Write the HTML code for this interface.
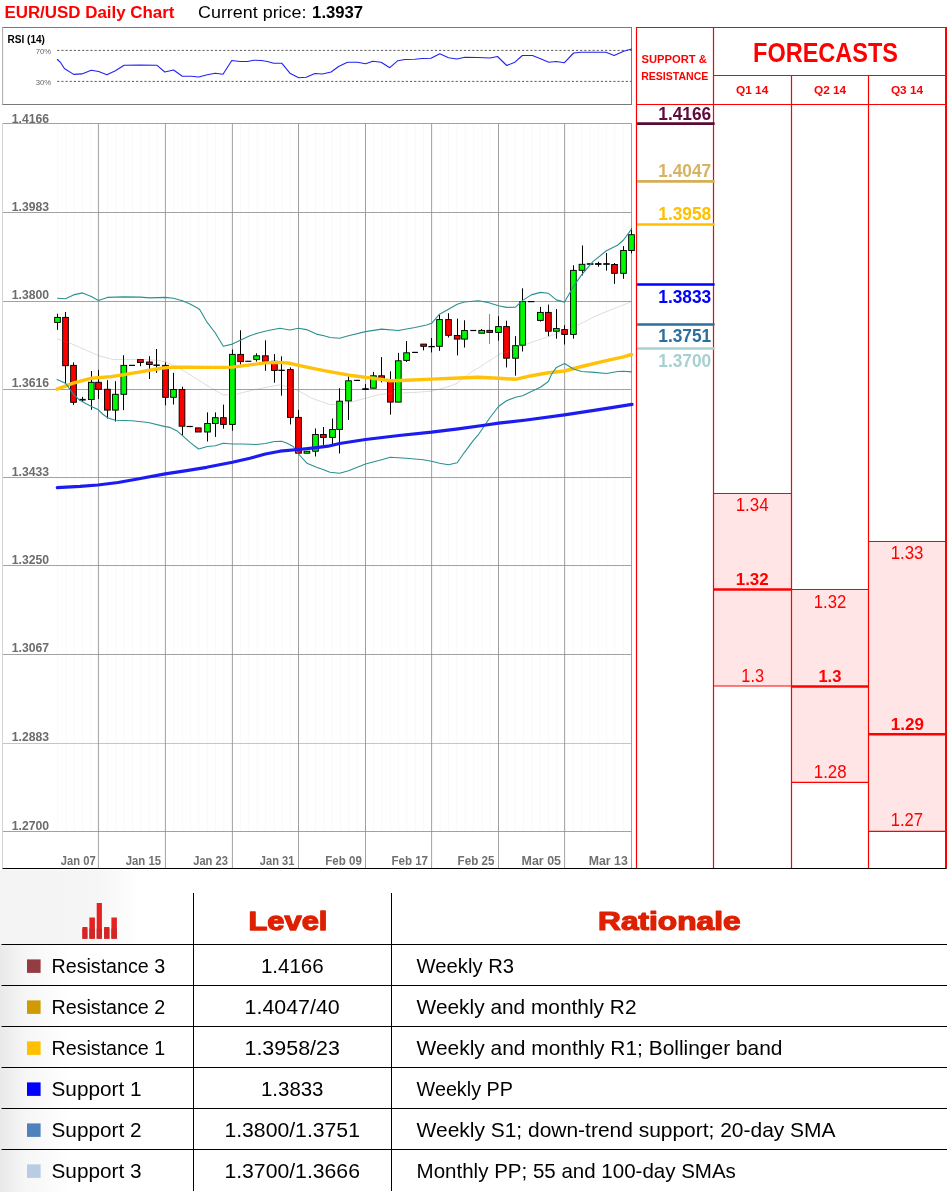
<!DOCTYPE html>
<html><head><meta charset="utf-8"><title>EUR/USD Daily Chart</title>
<style>
html,body{margin:0;padding:0;background:#fff;}
body{width:949px;height:1192px;overflow:hidden;font-family:"Liberation Sans",sans-serif;}
svg{display:block;font-family:"Liberation Sans",sans-serif;will-change:transform;}
</style></head><body>
<svg width="949" height="1192" viewBox="0 0 949 1192">
<rect x="0.00" y="0.00" width="949.00" height="1192.00" fill="#fff" stroke="none" stroke-width="0" />
<defs><linearGradient id="tg" x1="0" x2="1" y1="0" y2="0"><stop offset="0" stop-color="#e9e9e9"/><stop offset="0.35" stop-color="#f6f6f6"/><stop offset="1" stop-color="#ffffff"/></linearGradient></defs>
<linearGradient id="tg2" x1="0" x2="1" y1="0" y2="0"><stop offset="0" stop-color="#f3f3f3"/><stop offset="0.72" stop-color="#f6f6f6"/><stop offset="1" stop-color="#ffffff"/></linearGradient>
<linearGradient id="tg3" x1="0" x2="0" y1="0" y2="1"><stop offset="0" stop-color="#fff" stop-opacity="1"/><stop offset="1" stop-color="#fff" stop-opacity="0"/></linearGradient>
<rect x="0.00" y="869.50" width="138.00" height="75.00" fill="url(#tg2)" stroke="none" stroke-width="0" />
<rect x="0.00" y="944.00" width="70.00" height="248.00" fill="url(#tg)" stroke="none" stroke-width="0" />
<text transform="translate(4.40,17.60) scale(1.0071,1)" font-size="16.8" font-weight="bold" fill="#ff0000" >EUR/USD Daily Chart</text>
<text transform="translate(198.00,17.60) scale(1.0657,1)" font-size="16.8" font-weight="normal" fill="#000" >Current price:</text>
<text transform="translate(312.10,17.60) scale(0.9940,1)" font-size="16.8" font-weight="bold" fill="#000" >1.3937</text>
<line x1="2" y1="27.5" x2="632" y2="27.5" stroke="#787878" stroke-width="1" />
<line x1="2" y1="104.5" x2="632" y2="104.5" stroke="#787878" stroke-width="1" />
<line x1="631.5" y1="27.5" x2="631.5" y2="104.5" stroke="#808080" stroke-width="1" />
<line x1="2.6" y1="27.5" x2="2.6" y2="104.5" stroke="#b0b0b0" stroke-width="1.1" />
<text transform="translate(7.50,42.70) scale(0.9588,1)" font-size="10.5" font-weight="bold" fill="#000" >RSI (14)</text>
<text transform="translate(35.70,53.60) scale(0.9936,1)" font-size="7.8" font-weight="normal" fill="#666" >70%</text>
<text transform="translate(35.70,84.80) scale(0.9936,1)" font-size="7.8" font-weight="normal" fill="#666" >30%</text>
<line x1="57.2" y1="50.4" x2="631.5" y2="50.4" stroke="#333" stroke-width="0.8" stroke-dasharray="2.2 1.95"/>
<line x1="57.2" y1="81.4" x2="631.5" y2="81.4" stroke="#333" stroke-width="0.8" stroke-dasharray="2.2 1.95"/>
<polyline points="57.4,59.5 60.7,62.7 64.4,68.5 73.7,74.4 81.9,73.9 91.2,70.2 98.7,71.5 106.9,74.7 115.4,70.7 124.1,65.2 139.9,65.0 156.8,65.2 164.8,72.0 173.6,70.0 182.3,76.2 191.1,76.2 198.6,77.0 207.3,74.7 215.3,73.2 223.0,74.2 231.8,60.5 240.0,61.5 247.5,61.5 253.7,60.2 261.2,60.5 267.5,61.5 273.7,63.2 281.7,63.2 289.9,73.2 298.7,77.7 306.2,77.2 314.9,73.5 322.4,74.0 331.1,72.0 338.6,66.5 347.4,62.2 357.4,62.2 365.6,63.7 372.9,61.2 381.1,62.2 389.8,67.7 397.8,60.7 404.8,59.5 414.8,59.2 422.3,58.5 431.0,58.2 439.8,53.7 448.5,57.7 456.8,59.0 465.0,57.2 477.5,57.5 490.0,58.0 497.5,56.5 506.7,65.5 514.9,62.2 522.4,55.5 532.4,55.5 541.2,59.0 548.7,62.2 556.2,61.5 564.4,62.7 573.6,53.0 581.1,52.2 606.1,52.2 614.1,55.5 623.6,51.2 631.6,49.0" fill="none" stroke="#2222f4" stroke-width="1.1" stroke-linejoin="round" stroke-linecap="round" />
<line x1="57.5" y1="124" x2="57.5" y2="831" stroke="#f9f9f9" stroke-width="1" />
<line x1="65.8" y1="124" x2="65.8" y2="831" stroke="#f9f9f9" stroke-width="1" />
<line x1="74.1" y1="124" x2="74.1" y2="831" stroke="#f9f9f9" stroke-width="1" />
<line x1="82.5" y1="124" x2="82.5" y2="831" stroke="#f9f9f9" stroke-width="1" />
<line x1="90.8" y1="124" x2="90.8" y2="831" stroke="#f9f9f9" stroke-width="1" />
<line x1="99.1" y1="124" x2="99.1" y2="831" stroke="#f9f9f9" stroke-width="1" />
<line x1="107.4" y1="124" x2="107.4" y2="831" stroke="#f9f9f9" stroke-width="1" />
<line x1="115.7" y1="124" x2="115.7" y2="831" stroke="#f9f9f9" stroke-width="1" />
<line x1="124.1" y1="124" x2="124.1" y2="831" stroke="#f9f9f9" stroke-width="1" />
<line x1="132.4" y1="124" x2="132.4" y2="831" stroke="#f9f9f9" stroke-width="1" />
<line x1="140.7" y1="124" x2="140.7" y2="831" stroke="#f9f9f9" stroke-width="1" />
<line x1="149.0" y1="124" x2="149.0" y2="831" stroke="#f9f9f9" stroke-width="1" />
<line x1="157.3" y1="124" x2="157.3" y2="831" stroke="#f9f9f9" stroke-width="1" />
<line x1="165.7" y1="124" x2="165.7" y2="831" stroke="#f9f9f9" stroke-width="1" />
<line x1="174.0" y1="124" x2="174.0" y2="831" stroke="#f9f9f9" stroke-width="1" />
<line x1="182.3" y1="124" x2="182.3" y2="831" stroke="#f9f9f9" stroke-width="1" />
<line x1="190.6" y1="124" x2="190.6" y2="831" stroke="#f9f9f9" stroke-width="1" />
<line x1="198.9" y1="124" x2="198.9" y2="831" stroke="#f9f9f9" stroke-width="1" />
<line x1="207.3" y1="124" x2="207.3" y2="831" stroke="#f9f9f9" stroke-width="1" />
<line x1="215.6" y1="124" x2="215.6" y2="831" stroke="#f9f9f9" stroke-width="1" />
<line x1="223.9" y1="124" x2="223.9" y2="831" stroke="#f9f9f9" stroke-width="1" />
<line x1="232.2" y1="124" x2="232.2" y2="831" stroke="#f9f9f9" stroke-width="1" />
<line x1="240.5" y1="124" x2="240.5" y2="831" stroke="#f9f9f9" stroke-width="1" />
<line x1="248.9" y1="124" x2="248.9" y2="831" stroke="#f9f9f9" stroke-width="1" />
<line x1="257.2" y1="124" x2="257.2" y2="831" stroke="#f9f9f9" stroke-width="1" />
<line x1="265.5" y1="124" x2="265.5" y2="831" stroke="#f9f9f9" stroke-width="1" />
<line x1="273.8" y1="124" x2="273.8" y2="831" stroke="#f9f9f9" stroke-width="1" />
<line x1="282.1" y1="124" x2="282.1" y2="831" stroke="#f9f9f9" stroke-width="1" />
<line x1="290.5" y1="124" x2="290.5" y2="831" stroke="#f9f9f9" stroke-width="1" />
<line x1="298.8" y1="124" x2="298.8" y2="831" stroke="#f9f9f9" stroke-width="1" />
<line x1="307.1" y1="124" x2="307.1" y2="831" stroke="#f9f9f9" stroke-width="1" />
<line x1="315.4" y1="124" x2="315.4" y2="831" stroke="#f9f9f9" stroke-width="1" />
<line x1="323.7" y1="124" x2="323.7" y2="831" stroke="#f9f9f9" stroke-width="1" />
<line x1="332.1" y1="124" x2="332.1" y2="831" stroke="#f9f9f9" stroke-width="1" />
<line x1="340.4" y1="124" x2="340.4" y2="831" stroke="#f9f9f9" stroke-width="1" />
<line x1="348.7" y1="124" x2="348.7" y2="831" stroke="#f9f9f9" stroke-width="1" />
<line x1="357.0" y1="124" x2="357.0" y2="831" stroke="#f9f9f9" stroke-width="1" />
<line x1="365.3" y1="124" x2="365.3" y2="831" stroke="#f9f9f9" stroke-width="1" />
<line x1="373.7" y1="124" x2="373.7" y2="831" stroke="#f9f9f9" stroke-width="1" />
<line x1="382.0" y1="124" x2="382.0" y2="831" stroke="#f9f9f9" stroke-width="1" />
<line x1="390.3" y1="124" x2="390.3" y2="831" stroke="#f9f9f9" stroke-width="1" />
<line x1="398.6" y1="124" x2="398.6" y2="831" stroke="#f9f9f9" stroke-width="1" />
<line x1="406.9" y1="124" x2="406.9" y2="831" stroke="#f9f9f9" stroke-width="1" />
<line x1="415.3" y1="124" x2="415.3" y2="831" stroke="#f9f9f9" stroke-width="1" />
<line x1="423.6" y1="124" x2="423.6" y2="831" stroke="#f9f9f9" stroke-width="1" />
<line x1="431.9" y1="124" x2="431.9" y2="831" stroke="#f9f9f9" stroke-width="1" />
<line x1="440.2" y1="124" x2="440.2" y2="831" stroke="#f9f9f9" stroke-width="1" />
<line x1="448.5" y1="124" x2="448.5" y2="831" stroke="#f9f9f9" stroke-width="1" />
<line x1="456.9" y1="124" x2="456.9" y2="831" stroke="#f9f9f9" stroke-width="1" />
<line x1="465.2" y1="124" x2="465.2" y2="831" stroke="#f9f9f9" stroke-width="1" />
<line x1="473.5" y1="124" x2="473.5" y2="831" stroke="#f9f9f9" stroke-width="1" />
<line x1="481.8" y1="124" x2="481.8" y2="831" stroke="#f9f9f9" stroke-width="1" />
<line x1="490.1" y1="124" x2="490.1" y2="831" stroke="#f9f9f9" stroke-width="1" />
<line x1="498.5" y1="124" x2="498.5" y2="831" stroke="#f9f9f9" stroke-width="1" />
<line x1="506.8" y1="124" x2="506.8" y2="831" stroke="#f9f9f9" stroke-width="1" />
<line x1="515.1" y1="124" x2="515.1" y2="831" stroke="#f9f9f9" stroke-width="1" />
<line x1="523.4" y1="124" x2="523.4" y2="831" stroke="#f9f9f9" stroke-width="1" />
<line x1="531.7" y1="124" x2="531.7" y2="831" stroke="#f9f9f9" stroke-width="1" />
<line x1="540.1" y1="124" x2="540.1" y2="831" stroke="#f9f9f9" stroke-width="1" />
<line x1="548.4" y1="124" x2="548.4" y2="831" stroke="#f9f9f9" stroke-width="1" />
<line x1="556.7" y1="124" x2="556.7" y2="831" stroke="#f9f9f9" stroke-width="1" />
<line x1="565.0" y1="124" x2="565.0" y2="831" stroke="#f9f9f9" stroke-width="1" />
<line x1="573.3" y1="124" x2="573.3" y2="831" stroke="#f9f9f9" stroke-width="1" />
<line x1="581.7" y1="124" x2="581.7" y2="831" stroke="#f9f9f9" stroke-width="1" />
<line x1="590.0" y1="124" x2="590.0" y2="831" stroke="#f9f9f9" stroke-width="1" />
<line x1="598.3" y1="124" x2="598.3" y2="831" stroke="#f9f9f9" stroke-width="1" />
<line x1="606.6" y1="124" x2="606.6" y2="831" stroke="#f9f9f9" stroke-width="1" />
<line x1="614.9" y1="124" x2="614.9" y2="831" stroke="#f9f9f9" stroke-width="1" />
<line x1="623.3" y1="124" x2="623.3" y2="831" stroke="#f9f9f9" stroke-width="1" />
<line x1="631.6" y1="124" x2="631.6" y2="831" stroke="#f9f9f9" stroke-width="1" />
<line x1="2.5" y1="123.5" x2="631.5" y2="123.5" stroke="#8a8a8a" stroke-width="0.8" />
<line x1="2.5" y1="212.5" x2="631.5" y2="212.5" stroke="#8a8a8a" stroke-width="0.8" />
<line x1="2.5" y1="301.5" x2="631.5" y2="301.5" stroke="#8a8a8a" stroke-width="0.8" />
<line x1="2.5" y1="389.5" x2="631.5" y2="389.5" stroke="#8a8a8a" stroke-width="0.8" />
<line x1="2.5" y1="477.5" x2="631.5" y2="477.5" stroke="#8a8a8a" stroke-width="0.8" />
<line x1="2.5" y1="565.5" x2="631.5" y2="565.5" stroke="#8a8a8a" stroke-width="0.8" />
<line x1="2.5" y1="654.5" x2="631.5" y2="654.5" stroke="#8a8a8a" stroke-width="0.8" />
<line x1="2.5" y1="743.5" x2="631.5" y2="743.5" stroke="#b8b8b8" stroke-width="0.8" />
<line x1="2.5" y1="831.5" x2="631.5" y2="831.5" stroke="#8a8a8a" stroke-width="0.8" />
<line x1="98.4" y1="123.5" x2="98.4" y2="868" stroke="#8a8a8a" stroke-width="0.8" />
<line x1="165.4" y1="123.5" x2="165.4" y2="868" stroke="#8a8a8a" stroke-width="0.8" />
<line x1="232.4" y1="123.5" x2="232.4" y2="868" stroke="#8a8a8a" stroke-width="0.8" />
<line x1="298.5" y1="123.5" x2="298.5" y2="868" stroke="#8a8a8a" stroke-width="0.8" />
<line x1="365.5" y1="123.5" x2="365.5" y2="868" stroke="#8a8a8a" stroke-width="0.8" />
<line x1="431.6" y1="123.5" x2="431.6" y2="868" stroke="#8a8a8a" stroke-width="0.8" />
<line x1="498.5" y1="123.5" x2="498.5" y2="868" stroke="#8a8a8a" stroke-width="0.8" />
<line x1="564.6" y1="123.5" x2="564.6" y2="868" stroke="#8a8a8a" stroke-width="0.8" />
<line x1="631.5" y1="123.5" x2="631.5" y2="868" stroke="#8a8a8a" stroke-width="0.8" />
<line x1="2.5" y1="123.5" x2="2.5" y2="868" stroke="#d4d4d4" stroke-width="1" />
<text transform="translate(11.70,122.70) scale(0.9937,1)" font-size="12.3" font-weight="bold" fill="#6c6c6c" >1.4166</text>
<text transform="translate(11.70,210.50) scale(0.9937,1)" font-size="12.3" font-weight="bold" fill="#6c6c6c" >1.3983</text>
<text transform="translate(11.70,298.80) scale(0.9937,1)" font-size="12.3" font-weight="bold" fill="#6c6c6c" >1.3800</text>
<text transform="translate(11.70,386.60) scale(0.9937,1)" font-size="12.3" font-weight="bold" fill="#6c6c6c" >1.3616</text>
<text transform="translate(11.70,475.80) scale(0.9937,1)" font-size="12.3" font-weight="bold" fill="#6c6c6c" >1.3433</text>
<text transform="translate(11.70,563.90) scale(0.9937,1)" font-size="12.3" font-weight="bold" fill="#6c6c6c" >1.3250</text>
<text transform="translate(11.70,651.80) scale(0.9937,1)" font-size="12.3" font-weight="bold" fill="#6c6c6c" >1.3067</text>
<text transform="translate(11.70,740.60) scale(0.9937,1)" font-size="12.3" font-weight="bold" fill="#6c6c6c" >1.2883</text>
<text transform="translate(11.70,829.80) scale(0.9937,1)" font-size="12.3" font-weight="bold" fill="#6c6c6c" >1.2700</text>
<text transform="translate(60.80,864.90) scale(0.9259,1)" font-size="12.1" font-weight="bold" fill="#707070" >Jan 07</text>
<text transform="translate(125.70,864.90) scale(0.9392,1)" font-size="12.1" font-weight="bold" fill="#707070" >Jan 15</text>
<text transform="translate(193.20,864.90) scale(0.9233,1)" font-size="12.1" font-weight="bold" fill="#707070" >Jan 23</text>
<text transform="translate(259.80,864.90) scale(0.9180,1)" font-size="12.1" font-weight="bold" fill="#707070" >Jan 31</text>
<text transform="translate(325.30,864.90) scale(0.9542,1)" font-size="12.1" font-weight="bold" fill="#707070" >Feb 09</text>
<text transform="translate(391.40,864.90) scale(0.9568,1)" font-size="12.1" font-weight="bold" fill="#707070" >Feb 17</text>
<text transform="translate(457.60,864.90) scale(0.9594,1)" font-size="12.1" font-weight="bold" fill="#707070" >Feb 25</text>
<text transform="translate(521.50,864.90) scale(1.0324,1)" font-size="12.1" font-weight="bold" fill="#707070" >Mar 05</text>
<text transform="translate(588.70,864.90) scale(1.0194,1)" font-size="12.1" font-weight="bold" fill="#707070" >Mar 13</text>
<line x1="57.5" y1="313.7" x2="57.5" y2="329.9" stroke="#000" stroke-width="1.0" />
<rect x="54.65" y="317.40" width="5.70" height="5.00" fill="#00fa00" stroke="#000" stroke-width="0.95" />
<line x1="65.5" y1="312" x2="65.5" y2="384" stroke="#000" stroke-width="1.0" />
<rect x="62.65" y="317.40" width="5.70" height="48.30" fill="#fc0000" stroke="#000" stroke-width="0.95" />
<line x1="73.5" y1="362.4" x2="73.5" y2="404.8" stroke="#000" stroke-width="1.0" />
<rect x="70.65" y="365.40" width="5.70" height="36.90" fill="#fc0000" stroke="#000" stroke-width="0.95" />
<line x1="82.5" y1="396.9" x2="82.5" y2="401.8" stroke="#000" stroke-width="1.0" />
<line x1="79.3" y1="399.7" x2="85.7" y2="399.7" stroke="#000" stroke-width="1.7" />
<line x1="91.5" y1="371" x2="91.5" y2="409.8" stroke="#000" stroke-width="1.0" />
<rect x="88.45" y="382.30" width="5.70" height="17.20" fill="#00fa00" stroke="#000" stroke-width="0.95" />
<line x1="98.5" y1="369.9" x2="98.5" y2="399" stroke="#000" stroke-width="1.0" />
<rect x="95.65" y="382.30" width="5.70" height="7.00" fill="#fc0000" stroke="#000" stroke-width="0.95" />
<line x1="107.5" y1="380.2" x2="107.5" y2="418.5" stroke="#000" stroke-width="1.0" />
<rect x="104.55" y="389.30" width="5.70" height="20.80" fill="#fc0000" stroke="#000" stroke-width="0.95" />
<line x1="115.5" y1="381.2" x2="115.5" y2="421.5" stroke="#000" stroke-width="1.0" />
<rect x="112.55" y="394.30" width="5.70" height="15.80" fill="#00fa00" stroke="#000" stroke-width="0.95" />
<line x1="123.5" y1="355.2" x2="123.5" y2="410.1" stroke="#000" stroke-width="1.0" />
<rect x="120.95" y="365.40" width="5.70" height="28.90" fill="#00fa00" stroke="#000" stroke-width="0.95" />
<line x1="129" y1="365.4" x2="135" y2="365.4" stroke="#000" stroke-width="1.2" />
<line x1="140.5" y1="359.5" x2="140.5" y2="366.2" stroke="#000" stroke-width="1.0" />
<rect x="137.55" y="359.50" width="5.70" height="3.00" fill="#fc0000" stroke="#000" stroke-width="0.95" />
<line x1="149.5" y1="356.2" x2="149.5" y2="379" stroke="#000" stroke-width="1.0" />
<rect x="146.55" y="362.00" width="5.70" height="2.50" fill="#fc0000" stroke="#000" stroke-width="0.95" />
<line x1="156.5" y1="349" x2="156.5" y2="372.8" stroke="#000" stroke-width="1.0" />
<line x1="153.4" y1="365.2" x2="159.79999999999998" y2="365.2" stroke="#000" stroke-width="1.5" />
<line x1="165.5" y1="362.4" x2="165.5" y2="405.3" stroke="#000" stroke-width="1.0" />
<rect x="162.65" y="365.40" width="5.70" height="31.90" fill="#fc0000" stroke="#000" stroke-width="0.95" />
<line x1="173.5" y1="372.8" x2="173.5" y2="404.5" stroke="#000" stroke-width="1.0" />
<rect x="170.65" y="389.50" width="5.70" height="7.80" fill="#00fa00" stroke="#000" stroke-width="0.95" />
<line x1="182.5" y1="386.7" x2="182.5" y2="435.7" stroke="#000" stroke-width="1.0" />
<rect x="179.15" y="389.50" width="5.70" height="36.70" fill="#fc0000" stroke="#000" stroke-width="0.95" />
<line x1="186.6" y1="426.5" x2="192.8" y2="426.5" stroke="#000" stroke-width="1.2" />
<line x1="198.5" y1="427.9" x2="198.5" y2="432" stroke="#000" stroke-width="1.0" />
<rect x="195.45" y="427.90" width="5.70" height="4.10" fill="#fc0000" stroke="#000" stroke-width="0.95" />
<line x1="207.5" y1="412.4" x2="207.5" y2="441.5" stroke="#000" stroke-width="1.0" />
<rect x="204.65" y="423.50" width="5.70" height="8.50" fill="#00fa00" stroke="#000" stroke-width="0.95" />
<line x1="215.5" y1="412.4" x2="215.5" y2="436.9" stroke="#000" stroke-width="1.0" />
<rect x="212.45" y="417.70" width="5.70" height="5.80" fill="#00fa00" stroke="#000" stroke-width="0.95" />
<line x1="223.5" y1="404.6" x2="223.5" y2="428.7" stroke="#000" stroke-width="1.0" />
<rect x="220.55" y="417.70" width="5.70" height="6.70" fill="#fc0000" stroke="#000" stroke-width="0.95" />
<line x1="232.5" y1="349.5" x2="232.5" y2="430.7" stroke="#000" stroke-width="1.0" />
<rect x="229.55" y="354.40" width="5.70" height="70.00" fill="#00fa00" stroke="#000" stroke-width="0.95" />
<line x1="240.5" y1="330.3" x2="240.5" y2="364.6" stroke="#000" stroke-width="1.0" />
<rect x="237.75" y="354.40" width="5.70" height="7.20" fill="#fc0000" stroke="#000" stroke-width="0.95" />
<line x1="245.3" y1="361.3" x2="251.3" y2="361.3" stroke="#000" stroke-width="1.2" />
<line x1="256.5" y1="353.3" x2="256.5" y2="361.6" stroke="#000" stroke-width="1.0" />
<rect x="253.75" y="355.80" width="5.70" height="3.60" fill="#00fa00" stroke="#000" stroke-width="0.95" />
<line x1="265.5" y1="340.3" x2="265.5" y2="370.8" stroke="#000" stroke-width="1.0" />
<rect x="262.55" y="355.80" width="5.70" height="5.50" fill="#fc0000" stroke="#000" stroke-width="0.95" />
<line x1="274.5" y1="354.1" x2="274.5" y2="382.7" stroke="#000" stroke-width="1.0" />
<rect x="271.55" y="361.30" width="5.70" height="9.10" fill="#fc0000" stroke="#000" stroke-width="0.95" />
<line x1="281.5" y1="356.3" x2="281.5" y2="395.7" stroke="#000" stroke-width="1.0" />
<line x1="278.40000000000003" y1="370.3" x2="284.8" y2="370.3" stroke="#000" stroke-width="1.3" />
<line x1="290.5" y1="367.4" x2="290.5" y2="424.4" stroke="#000" stroke-width="1.0" />
<rect x="287.55" y="369.60" width="5.70" height="47.80" fill="#fc0000" stroke="#000" stroke-width="0.95" />
<line x1="298.5" y1="409.9" x2="298.5" y2="454" stroke="#000" stroke-width="1.0" />
<rect x="295.65" y="417.40" width="5.70" height="35.80" fill="#fc0000" stroke="#000" stroke-width="0.95" />
<line x1="306.5" y1="451.2" x2="306.5" y2="453.2" stroke="#000" stroke-width="1.0" />
<rect x="304.05" y="451.20" width="5.70" height="2.00" fill="#00fa00" stroke="#000" stroke-width="0.95" />
<line x1="315.5" y1="428.5" x2="315.5" y2="456.5" stroke="#000" stroke-width="1.0" />
<rect x="312.65" y="434.50" width="5.70" height="16.70" fill="#00fa00" stroke="#000" stroke-width="0.95" />
<line x1="323.5" y1="427" x2="323.5" y2="444.9" stroke="#000" stroke-width="1.0" />
<rect x="320.55" y="434.50" width="5.70" height="2.90" fill="#fc0000" stroke="#000" stroke-width="0.95" />
<line x1="332.5" y1="418.5" x2="332.5" y2="444.5" stroke="#000" stroke-width="1.0" />
<rect x="329.65" y="429.50" width="5.70" height="7.90" fill="#00fa00" stroke="#000" stroke-width="0.95" />
<line x1="339.5" y1="388.2" x2="339.5" y2="453.5" stroke="#000" stroke-width="1.0" />
<rect x="336.75" y="401.20" width="5.70" height="28.20" fill="#00fa00" stroke="#000" stroke-width="0.95" />
<line x1="348.5" y1="376.3" x2="348.5" y2="419.9" stroke="#000" stroke-width="1.0" />
<rect x="345.65" y="380.80" width="5.70" height="20.10" fill="#00fa00" stroke="#000" stroke-width="0.95" />
<line x1="354.1" y1="380.4" x2="360" y2="380.4" stroke="#000" stroke-width="1.2" />
<line x1="365.5" y1="384.1" x2="365.5" y2="389.1" stroke="#000" stroke-width="1.0" />
<line x1="362.3" y1="389.1" x2="368.7" y2="389.1" stroke="#000" stroke-width="1.8" />
<line x1="373.5" y1="371.9" x2="373.5" y2="388.2" stroke="#000" stroke-width="1.0" />
<rect x="370.55" y="375.80" width="5.70" height="12.40" fill="#00fa00" stroke="#000" stroke-width="0.95" />
<line x1="381.5" y1="357.1" x2="381.5" y2="382.4" stroke="#000" stroke-width="1.0" />
<rect x="378.75" y="375.80" width="5.70" height="2.70" fill="#fc0000" stroke="#000" stroke-width="0.95" />
<line x1="390.5" y1="371.3" x2="390.5" y2="414.6" stroke="#000" stroke-width="1.0" />
<rect x="387.55" y="380.80" width="5.70" height="21.30" fill="#fc0000" stroke="#000" stroke-width="0.95" />
<line x1="398.5" y1="352.9" x2="398.5" y2="402.1" stroke="#000" stroke-width="1.0" />
<rect x="395.45" y="360.80" width="5.70" height="41.30" fill="#00fa00" stroke="#000" stroke-width="0.95" />
<line x1="406.5" y1="341.1" x2="406.5" y2="361.9" stroke="#000" stroke-width="1.0" />
<rect x="403.75" y="352.80" width="5.70" height="7.60" fill="#00fa00" stroke="#000" stroke-width="0.95" />
<line x1="412.1" y1="352.4" x2="417.9" y2="352.4" stroke="#000" stroke-width="1.2" />
<line x1="423.5" y1="344.1" x2="423.5" y2="350.4" stroke="#000" stroke-width="1.0" />
<rect x="420.75" y="344.10" width="5.70" height="2.20" fill="#fc0000" stroke="#000" stroke-width="0.95" />
<line x1="431.5" y1="338" x2="431.5" y2="352.4" stroke="#000" stroke-width="1.0" />
<line x1="428.40000000000003" y1="346.6" x2="434.8" y2="346.6" stroke="#000" stroke-width="1.3" />
<line x1="439.5" y1="314.7" x2="439.5" y2="350.8" stroke="#000" stroke-width="1.0" />
<rect x="436.65" y="319.60" width="5.70" height="26.70" fill="#00fa00" stroke="#000" stroke-width="0.95" />
<line x1="448.5" y1="313.3" x2="448.5" y2="337.5" stroke="#000" stroke-width="1.0" />
<rect x="445.65" y="319.60" width="5.70" height="15.70" fill="#fc0000" stroke="#000" stroke-width="0.95" />
<line x1="457.5" y1="318.6" x2="457.5" y2="355.4" stroke="#000" stroke-width="1.0" />
<rect x="454.35" y="335.50" width="5.70" height="3.60" fill="#fc0000" stroke="#000" stroke-width="0.95" />
<line x1="464.5" y1="320.3" x2="464.5" y2="347.5" stroke="#000" stroke-width="1.0" />
<rect x="461.65" y="330.50" width="5.70" height="8.60" fill="#00fa00" stroke="#000" stroke-width="0.95" />
<line x1="470.3" y1="330.5" x2="476.2" y2="330.5" stroke="#000" stroke-width="1.2" />
<line x1="481.5" y1="329" x2="481.5" y2="333.2" stroke="#000" stroke-width="1.0" />
<rect x="478.85" y="330.40" width="5.70" height="2.80" fill="#00fa00" stroke="#000" stroke-width="0.95" />
<line x1="489.5" y1="314" x2="489.5" y2="344" stroke="#8c8c8c" stroke-width="1.0" />
<rect x="486.85" y="330.40" width="5.70" height="2.00" fill="#fc0000" stroke="#000" stroke-width="0.95" />
<line x1="498.5" y1="316.2" x2="498.5" y2="340.7" stroke="#000" stroke-width="1.0" />
<rect x="495.65" y="326.60" width="5.70" height="5.80" fill="#00fa00" stroke="#000" stroke-width="0.95" />
<line x1="506.5" y1="320.7" x2="506.5" y2="367.4" stroke="#000" stroke-width="1.0" />
<rect x="503.65" y="326.60" width="5.70" height="31.60" fill="#fc0000" stroke="#000" stroke-width="0.95" />
<line x1="515.5" y1="336.2" x2="515.5" y2="375.7" stroke="#000" stroke-width="1.0" />
<rect x="512.65" y="345.70" width="5.70" height="12.50" fill="#00fa00" stroke="#000" stroke-width="0.95" />
<line x1="522.5" y1="288.3" x2="522.5" y2="351.5" stroke="#000" stroke-width="1.0" />
<rect x="519.75" y="301.60" width="5.70" height="43.60" fill="#00fa00" stroke="#000" stroke-width="0.95" />
<line x1="528" y1="301.6" x2="534.3" y2="301.6" stroke="#000" stroke-width="1.2" />
<line x1="540.5" y1="306.9" x2="540.5" y2="321.6" stroke="#000" stroke-width="1.0" />
<rect x="537.55" y="312.40" width="5.70" height="8.00" fill="#00fa00" stroke="#000" stroke-width="0.95" />
<line x1="548.5" y1="304.6" x2="548.5" y2="336.2" stroke="#000" stroke-width="1.0" />
<rect x="545.55" y="312.40" width="5.70" height="18.80" fill="#fc0000" stroke="#000" stroke-width="0.95" />
<line x1="556.5" y1="309.1" x2="556.5" y2="338.7" stroke="#000" stroke-width="1.0" />
<rect x="553.55" y="328.60" width="5.70" height="2.60" fill="#00fa00" stroke="#000" stroke-width="0.95" />
<line x1="564.5" y1="325.2" x2="564.5" y2="344.5" stroke="#000" stroke-width="1.0" />
<rect x="561.75" y="329.60" width="5.70" height="4.80" fill="#fc0000" stroke="#000" stroke-width="0.95" />
<line x1="573.5" y1="265.3" x2="573.5" y2="338.7" stroke="#000" stroke-width="1.0" />
<rect x="570.55" y="270.40" width="5.70" height="64.00" fill="#00fa00" stroke="#000" stroke-width="0.95" />
<line x1="582.5" y1="245.5" x2="582.5" y2="275.4" stroke="#000" stroke-width="1.0" />
<rect x="579.15" y="264.30" width="5.70" height="6.00" fill="#00fa00" stroke="#000" stroke-width="0.95" />
<line x1="586.8" y1="264.0" x2="593.5" y2="264.0" stroke="#000" stroke-width="1.6" />
<line x1="598.5" y1="261.8" x2="598.5" y2="266.7" stroke="#000" stroke-width="1.0" />
<line x1="595.0999999999999" y1="264.0" x2="601.5" y2="264.0" stroke="#000" stroke-width="1.8" />
<line x1="606.5" y1="253.0" x2="606.5" y2="270.6" stroke="#000" stroke-width="1.0" />
<line x1="603.3" y1="264.0" x2="609.7" y2="264.0" stroke="#000" stroke-width="1.7" />
<line x1="614.5" y1="263" x2="614.5" y2="283.8" stroke="#000" stroke-width="1.0" />
<rect x="611.65" y="264.50" width="5.70" height="8.80" fill="#fc0000" stroke="#000" stroke-width="0.95" />
<line x1="623.5" y1="246.1" x2="623.5" y2="278.8" stroke="#000" stroke-width="1.0" />
<rect x="620.65" y="250.50" width="5.70" height="22.80" fill="#00fa00" stroke="#000" stroke-width="0.95" />
<line x1="631.5" y1="228.3" x2="631.5" y2="253.3" stroke="#000" stroke-width="1.0" />
<rect x="628.65" y="234.70" width="5.70" height="15.80" fill="#00fa00" stroke="#000" stroke-width="0.95" />
<polyline points="57.5,339.0 70.0,343.2 83.3,349.0 98.5,355.7 113.3,359.5 133.3,359.4 150.0,359.8 157.6,360.2 166.5,362.2 176.5,366.5 191.5,375.7 211.6,388.2 223.3,394.9 236.6,394.1 253.3,389.9 269.9,386.6 279.9,384.9 289.9,387.4 298.5,390.7 311.5,398.2 320.0,401.2 330.0,404.6 339.6,404.1 353.3,401.6 365.5,398.2 381.6,394.1 398.3,393.2 414.9,392.4 431.6,391.2 448.5,386.6 457.2,383.3 464.5,377.4 473.2,370.8 478.0,368.2 498.5,354.9 515.5,348.2 531.3,342.4 548.4,336.6 564.6,330.7 573.4,327.4 581.6,323.2 594.6,316.6 606.4,311.6 623.5,304.9 631.5,301.6" fill="none" stroke="#808080" stroke-width="1" stroke-linejoin="round" stroke-linecap="round" stroke-opacity="0.26"/>
<polyline points="57.1,389.1 73.1,383.2 91.6,378.2 111.0,376.6 123.8,374.7 140.4,371.8 156.6,369.0 166.0,367.6 175.0,367.1 186.6,367.3 208.0,367.4 223.3,367.4 232.4,367.1 249.9,364.9 265.4,362.9 279.9,362.4 289.9,363.3 303.2,366.3 316.5,369.1 328.0,371.3 336.6,372.9 353.3,375.8 370.0,377.9 390.4,380.8 406.6,380.3 431.6,379.1 453.2,378.3 478.0,377.2 498.5,378.2 515.5,379.3 531.3,375.7 548.4,372.8 564.6,371.0 581.6,366.5 606.4,360.7 623.5,356.9 631.5,354.5" fill="none" stroke="#ffc208" stroke-width="3.4" stroke-linejoin="round" stroke-linecap="round" />
<polyline points="57.5,298.3 65.5,298.8 73.5,294.9 82.5,292.9 91.3,296.6 98.5,300.4 107.4,297.4 123.8,296.9 140.4,297.1 149.4,297.9 165.5,297.4 173.4,298.3 182.4,300.8 190.0,304.0 198.3,308.5 200.0,310.0 206.6,321.6 215.0,332.5 223.3,346.3 232.4,344.1 240.8,340.0 249.9,335.8 258.2,333.0 268.2,330.5 279.9,328.3 289.9,330.0 298.5,328.3 306.5,329.6 316.5,334.1 324.0,335.8 330.0,337.5 339.6,338.3 348.5,335.8 365.5,331.6 381.6,329.1 398.3,330.5 414.9,327.5 426.6,325.0 431.6,323.3 439.5,314.2 448.5,309.2 457.2,304.2 464.5,302.0 478.0,300.8 488.0,302.4 498.5,305.7 506.5,307.4 515.5,307.1 522.6,300.4 531.3,294.9 540.4,292.4 548.4,293.3 556.4,299.9 564.6,302.1 573.4,286.6 581.6,274.9 592.9,261.6 606.4,250.8 617.9,245.0 623.5,240.0 631.5,229.2" fill="none" stroke="#2b9090" stroke-width="1.1" stroke-linejoin="round" stroke-linecap="round" />
<polyline points="57.1,379.5 65.5,383.2 68.9,387.9 73.1,393.8 79.0,399.7 85.7,403.5 91.6,406.4 98.4,409.8 102.6,414.0 107.6,417.8 115.2,420.3 132.0,420.8 148.3,422.5 165.2,426.6 170.0,427.4 176.7,430.7 182.5,435.7 190.0,442.4 198.6,449.0 207.5,446.5 215.3,445.7 223.4,443.2 232.4,444.0 243.3,444.0 256.6,444.5 265.4,443.5 274.4,441.5 281.6,441.2 286.6,442.9 293.2,446.5 298.5,454.0 306.9,463.2 316.5,467.3 323.0,469.5 330.0,472.3 339.6,473.2 348.5,470.7 365.5,464.0 381.6,459.8 390.4,457.3 406.6,458.2 423.2,459.8 431.6,461.2 439.5,463.2 448.5,464.8 457.2,462.8 464.5,452.3 473.2,440.7 478.0,435.2 489.7,418.0 498.5,406.5 506.5,400.7 515.5,397.3 522.6,395.7 531.3,391.5 540.4,387.3 548.4,381.5 551.3,374.8 556.4,367.4 564.6,363.5 573.4,369.0 581.6,371.5 594.6,372.4 606.4,373.5 617.9,371.5 623.5,371.2 631.5,371.9" fill="none" stroke="#2b9090" stroke-width="1.1" stroke-linejoin="round" stroke-linecap="round" />
<polyline points="57.3,487.6 80.0,486.4 97.8,485.0 118.0,482.5 134.9,479.5 165.2,473.9 186.6,470.7 206.6,467.3 232.4,462.3 249.9,458.2 265.4,454.0 279.9,451.2 298.5,449.5 316.5,447.6 328.0,446.2 339.6,443.5 365.5,439.5 399.0,435.5 431.6,432.2 458.2,428.8 486.0,425.0 498.6,423.2 526.5,420.0 564.4,414.9 597.3,409.8 632.0,404.3" fill="none" stroke="#1c1cf2" stroke-width="3.2" stroke-linejoin="round" stroke-linecap="round" />
<rect x="713.50" y="493.50" width="78.00" height="192.50" fill="#ffe5e5" stroke="none" stroke-width="0" />
<rect x="791.50" y="589.50" width="77.00" height="192.80" fill="#ffe5e5" stroke="none" stroke-width="0" />
<rect x="868.50" y="541.40" width="77.50" height="289.90" fill="#ffe5e5" stroke="none" stroke-width="0" />
<line x1="636.5" y1="27.5" x2="636.5" y2="868" stroke="#ff0000" stroke-width="1.2" />
<line x1="713.5" y1="27.5" x2="713.5" y2="868" stroke="#ff0000" stroke-width="1.2" />
<line x1="791.5" y1="75.5" x2="791.5" y2="868" stroke="#ff0000" stroke-width="1.2" />
<line x1="868.5" y1="75.5" x2="868.5" y2="868" stroke="#ff0000" stroke-width="1.2" />
<line x1="946" y1="26.9" x2="946" y2="868" stroke="#ff0000" stroke-width="2" />
<line x1="635.9" y1="27.5" x2="947" y2="27.5" stroke="#ff0000" stroke-width="1.2" />
<line x1="713.5" y1="75.5" x2="946" y2="75.5" stroke="#ff0000" stroke-width="1.2" />
<line x1="636.5" y1="104.5" x2="946" y2="104.5" stroke="#ff0000" stroke-width="1.2" />
<line x1="713.5" y1="493.5" x2="791.5" y2="493.5" stroke="#ff0000" stroke-width="1.2" />
<line x1="713.5" y1="686" x2="791.5" y2="686" stroke="#ff0000" stroke-width="1.2" />
<line x1="791.5" y1="589.5" x2="868.5" y2="589.5" stroke="#ff0000" stroke-width="1.2" />
<line x1="791.5" y1="782.4" x2="868.5" y2="782.4" stroke="#ff0000" stroke-width="1.2" />
<line x1="868.5" y1="541.5" x2="946" y2="541.5" stroke="#ff0000" stroke-width="1.2" />
<line x1="868.5" y1="831.4" x2="946" y2="831.4" stroke="#ff0000" stroke-width="1.2" />
<line x1="713.5" y1="589.6" x2="791.5" y2="589.6" stroke="#ff0000" stroke-width="2.5" />
<line x1="791.5" y1="686.4" x2="868.5" y2="686.4" stroke="#ff0000" stroke-width="2.5" />
<line x1="868.5" y1="734.3" x2="946" y2="734.3" stroke="#ff0000" stroke-width="2.5" />
<text transform="translate(641.50,62.70) scale(1.0394,1)" font-size="10.8" font-weight="bold" fill="#ff0000" >SUPPORT &amp;</text>
<text transform="translate(641.20,79.80) scale(0.9419,1)" font-size="11.2" font-weight="bold" fill="#ff0000" >RESISTANCE</text>
<text transform="translate(753.10,61.70) scale(0.8705,1)" font-size="27" font-weight="bold" fill="#ff0000" >FORECASTS</text>
<text transform="translate(735.90,94.20) scale(1.0809,1)" font-size="11" font-weight="bold" fill="#ff0000" >Q1 14</text>
<text transform="translate(814.00,94.20) scale(1.0742,1)" font-size="11" font-weight="bold" fill="#ff0000" >Q2 14</text>
<text transform="translate(890.90,94.20) scale(1.0776,1)" font-size="11" font-weight="bold" fill="#ff0000" >Q3 14</text>
<text transform="translate(658.30,119.60) scale(0.9841,1)" font-size="17.6" font-weight="bold" fill="#600a3c" >1.4166</text>
<line x1="637.1" y1="123.6" x2="714.6" y2="123.6" stroke="#5a0a38" stroke-width="2.7" />
<text transform="translate(658.30,176.60) scale(0.9841,1)" font-size="17.6" font-weight="bold" fill="#d6b364" >1.4047</text>
<line x1="637.1" y1="181.4" x2="714.6" y2="181.4" stroke="#d4ae58" stroke-width="2.7" />
<text transform="translate(658.30,219.60) scale(0.9841,1)" font-size="17.6" font-weight="bold" fill="#ffc000" >1.3958</text>
<line x1="637.1" y1="224.5" x2="714.6" y2="224.5" stroke="#ffc000" stroke-width="2.7" />
<text transform="translate(658.30,302.50) scale(0.9841,1)" font-size="17.6" font-weight="bold" fill="#0000ff" >1.3833</text>
<line x1="637.1" y1="284.5" x2="714.6" y2="284.5" stroke="#0000ff" stroke-width="2.7" />
<text transform="translate(658.30,342.10) scale(0.9841,1)" font-size="17.6" font-weight="bold" fill="#2c6f9c" >1.3751</text>
<line x1="637.1" y1="324.5" x2="714.6" y2="324.5" stroke="#2c6f9c" stroke-width="2.7" />
<text transform="translate(658.30,366.60) scale(0.9841,1)" font-size="17.6" font-weight="bold" fill="#a8d0d0" >1.3700</text>
<line x1="637.1" y1="348.5" x2="714.6" y2="348.5" stroke="#a8d0d0" stroke-width="2.7" />
<text transform="translate(735.70,510.70) scale(0.9640,1)" font-size="17.6" font-weight="normal" fill="#ff0000" >1.34</text>
<text transform="translate(735.70,585.40) scale(0.9980,1)" font-size="17.0" font-weight="bold" fill="#ff0000" >1.32</text>
<text transform="translate(741.30,681.70) scale(0.9279,1)" font-size="17.6" font-weight="normal" fill="#ff0000" >1.3</text>
<text transform="translate(813.80,607.70) scale(0.9494,1)" font-size="17.6" font-weight="normal" fill="#ff0000" >1.32</text>
<text transform="translate(818.40,681.80) scale(0.9733,1)" font-size="17.0" font-weight="bold" fill="#ff0000" >1.3</text>
<text transform="translate(813.80,777.80) scale(0.9582,1)" font-size="17.6" font-weight="normal" fill="#ff0000" >1.28</text>
<text transform="translate(890.70,559.10) scale(0.9582,1)" font-size="17.6" font-weight="normal" fill="#ff0000" >1.33</text>
<text transform="translate(890.70,729.60) scale(1.0041,1)" font-size="17.0" font-weight="bold" fill="#ff0000" >1.29</text>
<text transform="translate(890.70,826.20) scale(0.9465,1)" font-size="17.6" font-weight="normal" fill="#ff0000" >1.27</text>
<line x1="2.5" y1="868.45" x2="946.7" y2="868.45" stroke="#000" stroke-width="1.1" />
<line x1="1.5" y1="944.5" x2="947" y2="944.5" stroke="#000" stroke-width="1" />
<line x1="1.5" y1="985.5" x2="947" y2="985.5" stroke="#000" stroke-width="1" />
<line x1="1.5" y1="1026.5" x2="947" y2="1026.5" stroke="#000" stroke-width="1" />
<line x1="1.5" y1="1067.5" x2="947" y2="1067.5" stroke="#000" stroke-width="1" />
<line x1="1.5" y1="1108.5" x2="947" y2="1108.5" stroke="#000" stroke-width="1" />
<line x1="1.5" y1="1149.5" x2="947" y2="1149.5" stroke="#000" stroke-width="1" />
<line x1="193.5" y1="893" x2="193.5" y2="1191" stroke="#000" stroke-width="1" />
<line x1="391.5" y1="893" x2="391.5" y2="1191" stroke="#000" stroke-width="1" />
<rect x="82.40" y="927.00" width="5.00" height="11.70" fill="#e42222" stroke="none" stroke-width="0" />
<rect x="82.40" y="928.60" width="5.00" height="10.10" fill="#d02626" stroke="none" stroke-width="0" />
<rect x="89.40" y="917.50" width="5.50" height="21.20" fill="#e42222" stroke="none" stroke-width="0" />
<rect x="89.40" y="928.60" width="5.50" height="10.10" fill="#d02626" stroke="none" stroke-width="0" />
<rect x="96.70" y="903.00" width="5.20" height="35.70" fill="#e42222" stroke="none" stroke-width="0" />
<rect x="96.70" y="928.60" width="5.20" height="10.10" fill="#d02626" stroke="none" stroke-width="0" />
<rect x="104.10" y="927.00" width="5.30" height="11.70" fill="#e42222" stroke="none" stroke-width="0" />
<rect x="104.10" y="928.60" width="5.30" height="10.10" fill="#d02626" stroke="none" stroke-width="0" />
<rect x="111.40" y="917.50" width="5.50" height="21.20" fill="#e42222" stroke="none" stroke-width="0" />
<rect x="111.40" y="928.60" width="5.50" height="10.10" fill="#d02626" stroke="none" stroke-width="0" />
<text transform="translate(248.40,929.60) scale(1.2078,1)" font-size="25.6" font-weight="bold" fill="#de2002" stroke="#de2002" stroke-width="1.25" stroke-linejoin="round">Level</text>
<text transform="translate(598.00,929.60) scale(1.2378,1)" font-size="25.6" font-weight="bold" fill="#de2002" stroke="#de2002" stroke-width="1.25" stroke-linejoin="round">Rationale</text>
<rect x="27.00" y="959.40" width="13.60" height="13.50" fill="#943c41" stroke="none" stroke-width="0" />
<text transform="translate(51.50,972.90) scale(0.9596,1)" font-size="20.5" font-weight="normal" fill="#000" >Resistance 3</text>
<text transform="translate(260.90,972.90) scale(1.0011,1)" font-size="20.5" font-weight="normal" fill="#000" >1.4166</text>
<text transform="translate(416.60,972.90) scale(0.9868,1)" font-size="20.5" font-weight="normal" fill="#000" >Weekly R3</text>
<rect x="27.00" y="1000.40" width="13.60" height="13.50" fill="#d09a02" stroke="none" stroke-width="0" />
<text transform="translate(51.50,1013.90) scale(0.9596,1)" font-size="20.5" font-weight="normal" fill="#000" >Resistance 2</text>
<text transform="translate(244.60,1013.90) scale(1.0425,1)" font-size="20.5" font-weight="normal" fill="#000" >1.4047/40</text>
<text transform="translate(416.60,1013.90) scale(1.0182,1)" font-size="20.5" font-weight="normal" fill="#000" >Weekly and monthly R2</text>
<rect x="27.00" y="1041.40" width="13.60" height="13.50" fill="#ffc000" stroke="none" stroke-width="0" />
<text transform="translate(51.50,1054.90) scale(0.9596,1)" font-size="20.5" font-weight="normal" fill="#000" >Resistance 1</text>
<text transform="translate(244.50,1054.90) scale(1.0458,1)" font-size="20.5" font-weight="normal" fill="#000" >1.3958/23</text>
<text transform="translate(416.60,1054.90) scale(1.0208,1)" font-size="20.5" font-weight="normal" fill="#000" >Weekly and monthly R1; Bollinger band</text>
<rect x="27.00" y="1082.40" width="13.60" height="13.50" fill="#0000ff" stroke="none" stroke-width="0" />
<text transform="translate(51.50,1095.90) scale(1.0127,1)" font-size="20.5" font-weight="normal" fill="#000" >Support 1</text>
<text transform="translate(261.00,1095.90) scale(0.9963,1)" font-size="20.5" font-weight="normal" fill="#000" >1.3833</text>
<text transform="translate(416.60,1095.90) scale(0.9646,1)" font-size="20.5" font-weight="normal" fill="#000" >Weekly PP</text>
<rect x="27.00" y="1123.40" width="13.60" height="13.50" fill="#4f81bd" stroke="none" stroke-width="0" />
<text transform="translate(51.50,1136.90) scale(1.0127,1)" font-size="20.5" font-weight="normal" fill="#000" >Support 2</text>
<text transform="translate(224.40,1136.90) scale(1.0343,1)" font-size="20.5" font-weight="normal" fill="#000" >1.3800/1.3751</text>
<text transform="translate(416.60,1136.90) scale(1.0232,1)" font-size="20.5" font-weight="normal" fill="#000" >Weekly S1; down-trend support; 20-day SMA</text>
<rect x="27.00" y="1164.40" width="13.60" height="13.50" fill="#b8cce4" stroke="none" stroke-width="0" />
<text transform="translate(51.50,1177.90) scale(1.0127,1)" font-size="20.5" font-weight="normal" fill="#000" >Support 3</text>
<text transform="translate(224.40,1177.90) scale(1.0343,1)" font-size="20.5" font-weight="normal" fill="#000" >1.3700/1.3666</text>
<text transform="translate(416.60,1177.90) scale(1.0013,1)" font-size="20.5" font-weight="normal" fill="#000" >Monthly PP; 55 and 100-day SMAs</text>
</svg>
</body></html>
